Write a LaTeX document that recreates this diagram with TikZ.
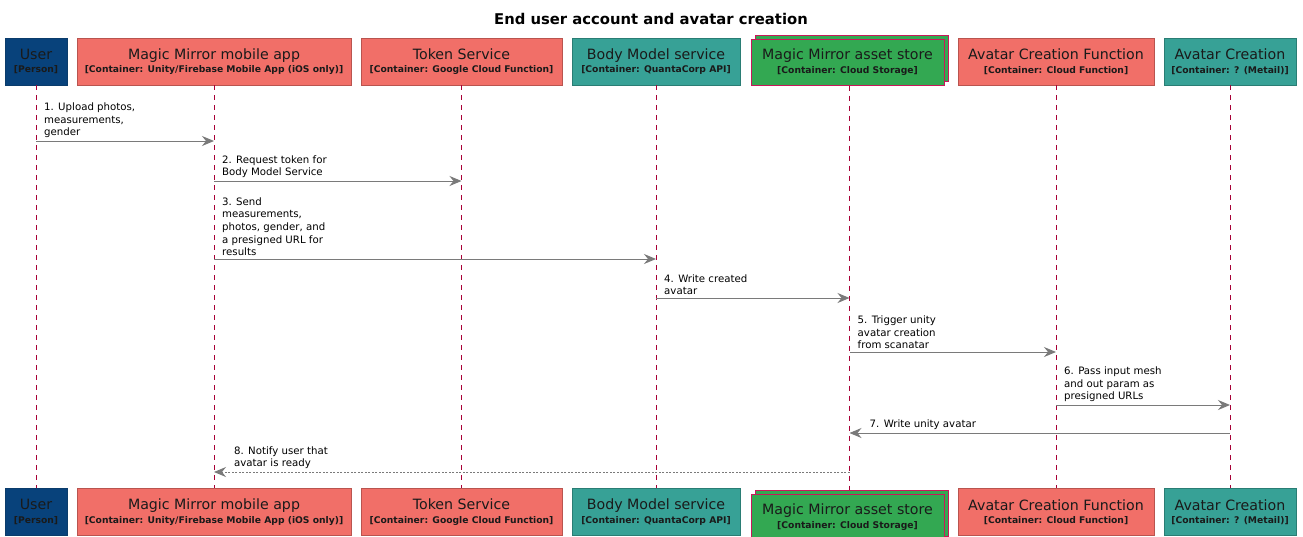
\documentclass[tikz,border=0pt]{standalone}
\usepackage{fontspec}
\setmainfont{DejaVu Sans}
\usetikzlibrary{arrows.meta}

\definecolor{personfill}{HTML}{08427B}
\definecolor{personline}{HTML}{0B3C6B}
\definecolor{salmonfill}{HTML}{F16F68}
\definecolor{salmonline}{HTML}{B9544F}
\definecolor{tealfill}{HTML}{37A196}
\definecolor{tealline}{HTML}{2A7D74}
\definecolor{storefill}{HTML}{33A852}
\definecolor{storeline}{HTML}{C8185A}
\definecolor{lifeline}{HTML}{A80036}
\definecolor{msgline}{HTML}{7A7A7A}
\definecolor{boxtext}{HTML}{1A1A1A}

\newcommand{\pname}[2]{{\fontsize{14.2}{16}\selectfont #1}\\[1.5pt]{\fontsize{9.2}{10}\selectfont\bfseries #2}}

\tikzset{
  box/.style={draw, line width=0.8pt, minimum height=47, inner sep=0, align=center, text=boxtext},
  person/.style={box, fill=personfill, draw=personline},
  salmon/.style={box, fill=salmonfill, draw=salmonline},
  teal/.style={box, fill=tealfill, draw=tealline},
  store/.style={box, fill=storefill, draw=storeline, line width=1pt},
  life/.style={draw=lifeline, line width=0.8pt, dash pattern=on 5pt off 5pt},
  msg/.style={draw=msgline, line width=1pt, -{Stealth[length=12pt,width=10pt,inset=4pt]}},
  reply/.style={msg, dash pattern=on 2pt off 1.5pt},
  lbl/.style={inner sep=0, align=left, font=\fontsize{10.2}{12.6}\selectfont, text=black},
}

\begin{document}
\begin{tikzpicture}[x=1pt, y=-1pt]
\useasboundingbox (0,0) rectangle (1303,536);
\fill[white] (0,0) rectangle (1303,536);

% title
\node[font=\fontsize{14.8}{17}\selectfont\bfseries, anchor=base] (title) at (651,24) {End user account and avatar creation};

% participants (top row)
\node[person, minimum width=62]  (u)    at (36,61.5)    {\pname{User}{[Person]}};
\node[salmon, minimum width=274] (app)  at (214,61.5)   {\pname{Magic Mirror mobile app}{[Container: Unity/Firebase Mobile App (iOS only)]}};
\node[salmon, minimum width=201] (tok)  at (461.5,61.5) {\pname{Token Service}{[Container: Google Cloud Function]}};
\node[teal,   minimum width=168] (body) at (656,61.5)   {\pname{Body Model service}{[Container: QuantaCorp API]}};
\node[store,  minimum width=193, minimum height=46, fill=storefill] (storeb) at (851.5,58) {};
\node[store,  minimum width=193, minimum height=46] (store) at (847.5,62) {\pname{Magic Mirror asset store}{[Container: Cloud Storage]}};
\node[salmon, minimum width=196] (acf)  at (1056,61.5)  {\pname{Avatar Creation Function}{[Container: Cloud Function]}};
\node[teal,   minimum width=132] (ac)   at (1230,61.5)  {\pname{Avatar Creation}{[Container: ? (Metail)]}};

% participants (bottom row)
\node[person, minimum width=62]  (u2)    at (36,512)    {\pname{User}{[Person]}};
\node[salmon, minimum width=274] (app2)  at (214,512)   {\pname{Magic Mirror mobile app}{[Container: Unity/Firebase Mobile App (iOS only)]}};
\node[salmon, minimum width=201] (tok2)  at (461.5,512) {\pname{Token Service}{[Container: Google Cloud Function]}};
\node[teal,   minimum width=168] (body2) at (656,512)   {\pname{Body Model service}{[Container: QuantaCorp API]}};
\node[store,  minimum width=193, minimum height=46, fill=storefill] (store2b) at (851.5,513) {};
\node[store,  minimum width=193, minimum height=46] (store2) at (847.5,517) {\pname{Magic Mirror asset store}{[Container: Cloud Storage]}};
\node[salmon, minimum width=196] (acf2)  at (1056,512)  {\pname{Avatar Creation Function}{[Container: Cloud Function]}};
\node[teal,   minimum width=132] (ac2)   at (1230,512)  {\pname{Avatar Creation}{[Container: ? (Metail)]}};

% lifeline of the asset store runs through the middle of the stacked boxes
\coordinate (sl) at (849.5,0);

% lifelines
\draw[life] (u.south)    -- (u2.north);
\draw[life] (app.south)  -- (app2.north);
\draw[life] (tok.south)  -- (tok2.north);
\draw[life] (body.south) -- (body2.north);
\draw[life] (sl |- store.south) -- (sl |- store2b.north);
\draw[life] (acf.south)  -- (acf2.north);
\draw[life] (ac.south)   -- (ac2.north);

% message rows
\coordinate (r1) at (0,141);
\coordinate (r2) at (0,181);
\coordinate (r3) at (0,259);
\coordinate (r4) at (0,298);
\coordinate (r5) at (0,352);
\coordinate (r6) at (0,405);
\coordinate (r7) at (0,433);
\coordinate (r8) at (0,472);

% messages
\draw[msg] (u |- r1) -- (app |- r1);
\node[lbl, anchor=south west] (l1) at ([xshift=8,yshift=3]u |- r1) {1. Upload photos,\\measurements,\\gender};

\draw[msg] (app |- r2) -- (tok |- r2);
\node[lbl, anchor=south west] (l2) at ([xshift=8,yshift=3]app |- r2) {2. Request token for\\Body Model Service};

\draw[msg] (app |- r3) -- (body |- r3);
\node[lbl, anchor=south west] (l3) at ([xshift=8,yshift=3]app |- r3) {3. Send\\measurements,\\photos, gender, and\\a presigned URL for\\results};

\draw[msg] (body |- r4) -- (sl |- r4);
\node[lbl, anchor=south west] (l4) at ([xshift=8,yshift=3]body |- r4) {4. Write created\\avatar};

\draw[msg] (sl |- r5) -- (acf |- r5);
\node[lbl, anchor=south west] (l5) at ([xshift=8,yshift=3]sl |- r5) {5. Trigger unity\\avatar creation\\from scanatar};

\draw[msg] (acf |- r6) -- (ac |- r6);
\node[lbl, anchor=south west] (l6) at ([xshift=8,yshift=3]acf |- r6) {6. Pass input mesh\\and out param as\\presigned URLs};

\draw[msg] (ac |- r7) -- (sl |- r7);
\node[lbl, anchor=south west] (l7) at ([xshift=20,yshift=3]sl |- r7) {7. Write unity avatar};

\draw[reply] (sl |- r8) -- (app |- r8);
\node[lbl, anchor=south west] (l8) at ([xshift=20,yshift=3]app |- r8) {8. Notify user that\\avatar is ready};
\end{tikzpicture}
\end{document}
